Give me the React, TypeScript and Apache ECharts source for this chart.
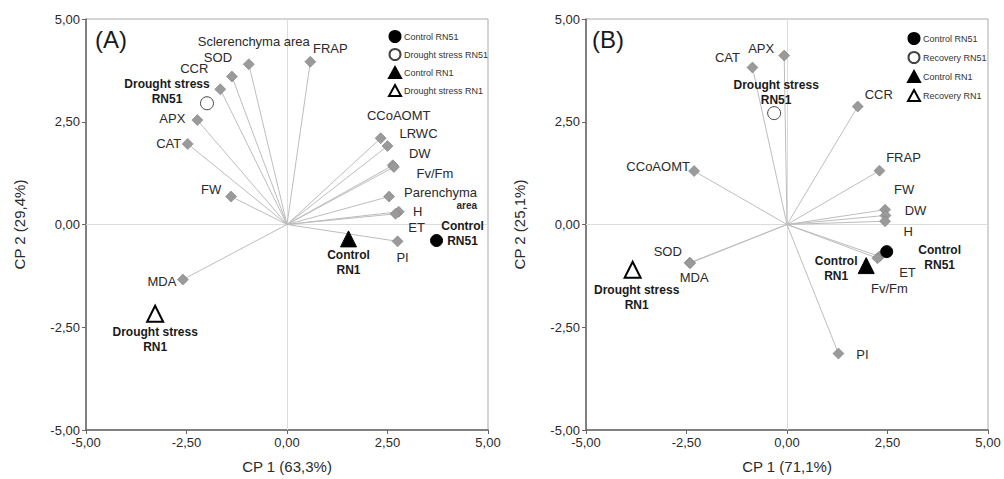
import React, { useEffect, useRef } from "react";
import * as echarts from "echarts";

// ---------- Data ----------
// Panel A: variable loadings
const varNamesA = ["Sclerenchyma area", "SOD", "CCR", "APX", "CAT", "FW", "MDA", "FRAP", "CCoAOMT", "LRWC", "DW", "Fv/Fm", "Parenchyma area", "H", "ET", "PI"];
const varXA = [-0.95, -1.37, -1.66, -2.23, -2.47, -1.39, -2.59, 0.58, 2.33, 2.50, 2.63, 2.66, 2.54, 2.78, 2.70, 2.75];
const varYA = [3.90, 3.60, 3.29, 2.54, 1.96, 0.68, -1.34, 3.96, 2.10, 1.91, 1.44, 1.40, 0.68, 0.31, 0.26, -0.41];

// Panel A: samples
const sampleNamesA = ["Control RN51", "Drought stress RN51", "Control RN1", "Drought stress RN1"];
const sampleLabelsA = ["Control\nRN51", "Drought stress\nRN51", "Control\nRN1", "Drought stress\nRN1"];
const sampleXA = [3.72, -1.99, 1.53, -3.28];
const sampleYA = [-0.39, 2.95, -0.35, -2.17];

// Panel B: variable loadings
const varNamesB = ["CAT", "APX", "CCR", "FRAP", "FW", "DW", "H", "CCoAOMT", "SOD", "MDA", "ET", "Fv/Fm", "PI"];
const varXB = [-0.86, -0.07, 1.76, 2.30, 2.44, 2.45, 2.44, -2.31, -2.42, -2.41, 2.30, 2.25, 1.28];
const varYB = [3.82, 4.11, 2.87, 1.31, 0.36, 0.22, 0.08, 1.30, -0.93, -0.94, -0.78, -0.82, -3.14];

// Panel B: samples
const sampleNamesB = ["Control RN51", "Recovery RN51", "Control RN1", "Recovery RN1"];
const sampleLabelsB = ["Control\nRN51", "Drought stress\nRN51", "Control\nRN1", "Drought stress\nRN1"];
const sampleXB = [2.48, -0.32, 1.97, -3.84];
const sampleYB = [-0.66, 2.71, -1.00, -1.10];

const axisTicks = [-5, -2.5, 0, 2.5, 5];
const axisNamesA = ["CP 1 (63,3%)", "CP 2 (29,4%)"];
const axisNamesB = ["CP 1 (71,1%)", "CP 2 (25,1%)"];
const panelTitles = ["(A)", "(B)"];

// ---------- Styles (label offsets in pixels) ----------
const labelOffsetA: Record<string, number[]> = {
  "Sclerenchyma area": [5, -23],
  SOD: [-14, -19],
  CCR: [-26, -21],
  APX: [-25, -2],
  CAT: [-19, 0],
  FW: [-20, -7],
  MDA: [-21, 2],
  FRAP: [20, -13],
  CCoAOMT: [18, -23],
  LRWC: [31, -12],
  DW: [27, -12],
  "Fv/Fm": [41, 7],
  "Parenchyma area": [88, 2],
  H: [19, 0],
  ET: [21, 14],
  PI: [5, 16],
};
const labelOffsetB: Record<string, number[]> = {
  CAT: [-25, -10],
  APX: [-23, -7],
  CCR: [21, -12],
  FRAP: [24, -13],
  FW: [19, -20],
  DW: [30, -5],
  H: [23, 10],
  CCoAOMT: [-36, -5],
  SOD: [-22, -11],
  MDA: [4, 14],
  ET: [28, 16],
  "Fv/Fm": [12, 30],
  PI: [24, 1],
};
const sampleOffsetA = [[26, -7], [-40, -12], [0, 24], [0, 26]];
const sampleOffsetB = [[53, 6], [2, -21], [-30, 3], [4, 28]];

const FONT = "'Liberation Sans', Arial, Helvetica, sans-serif";

const sampleStyles = [
  { symbol: "circle", symbolSize: 12, itemStyle: { color: "#000", borderColor: "#000", borderWidth: 1, opacity: 1 } },
  { symbol: "circle", symbolSize: 13, itemStyle: { color: "#fff", borderColor: "#444", borderWidth: 1, opacity: 1 } },
  { symbol: "triangle", symbolSize: 16, itemStyle: { color: "#000", borderColor: "#000", borderWidth: 1, opacity: 1 } },
  { symbol: "triangle", symbolSize: 16, itemStyle: { color: "#fff", borderColor: "#000", borderWidth: 2, opacity: 1 } },
];

const fmt = (v: number) => v.toFixed(2).replace(".", ",");

function buildPanel(
  idx: number,
  names: string[],
  xs: number[],
  ys: number[],
  offsets: Record<string, number[]>,
  sNames: string[],
  sLabels: string[],
  sx: number[],
  sy: number[],
  sOff: number[][]
) {
  const series: any[] = [];
  const varData = names.map((n, i) => {
    const isPar = n === "Parenchyma area";
    return {
      name: n,
      value: [xs[i], ys[i]],
      label: {
        show: true,
        position: "inside",
        offset: offsets[n] || [0, 0],
        formatter: isPar ? "{a|Parenchyma}\n{b|area}" : n,
        align: isPar ? "right" : "center",
        verticalAlign: "middle",
        color: "#2a2a2a",
        fontSize: 13,
        fontFamily: FONT,
        rich: isPar
          ? {
              a: { fontSize: 13, color: "#2a2a2a", fontFamily: FONT, lineHeight: 14 },
              b: { fontSize: 10, fontWeight: "bold", color: "#2a2a2a", fontFamily: FONT, lineHeight: 12 },
            }
          : undefined,
      },
    };
  });
  const mlData: any[] = [
    { xAxis: 0, lineStyle: { color: "#dcdcdc", width: 1, type: "solid" } },
    { yAxis: 0, lineStyle: { color: "#dcdcdc", width: 1, type: "solid" } },
  ];
  names.forEach((n, i) => {
    mlData.push([
      { coord: [0, 0], lineStyle: { color: "#bdbdbd", width: 1, type: "solid" } },
      { coord: [xs[i], ys[i]] },
    ]);
  });
  series.push({
    type: "scatter",
    name: "vars" + idx,
    xAxisIndex: idx,
    yAxisIndex: idx,
    symbol: "diamond",
    symbolSize: 11,
    itemStyle: { color: "#9a9a9a", borderColor: "#7d7d7d", borderWidth: 0.6, opacity: 1 },
    data: varData,
    z: 3,
    markLine: {
      silent: true,
      symbol: "none",
      label: { show: false },
      data: mlData,
      z: 1,
    },
  });
  sNames.forEach((sn, i) => {
    series.push({
      type: "scatter",
      name: sn,
      xAxisIndex: idx,
      yAxisIndex: idx,
      ...sampleStyles[i],
      z: 4,
      data: [
        {
          name: sn,
          value: [sx[i], sy[i]],
          label: {
            show: true,
            position: "inside",
            offset: sOff[i],
            formatter: sLabels[i],
            align: "center",
            verticalAlign: "middle",
            color: "#1a1a1a",
            fontSize: 12,
            fontWeight: "bold",
            lineHeight: 15,
            fontFamily: FONT,
          },
        },
      ],
    });
  });
  return series;
}

function makeAxis(idx: number, name: string, isX: boolean) {
  return {
    type: "value",
    gridIndex: idx,
    min: -5,
    max: 5,
    interval: 2.5,
    name,
    nameLocation: "middle",
    nameGap: isX ? 29 : 59,
    nameTextStyle: { fontSize: 15, color: "#2a2a2a", fontFamily: FONT },
    axisLine: { show: true, onZero: false, lineStyle: { color: "#666", width: 1.5 } },
    axisTick: { show: true, length: 4, lineStyle: { color: "#666" } },
    axisLabel: {
      formatter: (v: number) => (axisTicks.includes(v) ? fmt(v) : ""),
      fontSize: 13,
      color: "#2a2a2a",
      margin: 6,
      fontFamily: FONT,
    },
    splitLine: { show: false },
  };
}

export default function App() {
  const ref = useRef<HTMLDivElement>(null);
  useEffect(() => {
    if (!ref.current) return;
    const chart = echarts.init(ref.current, undefined, { renderer: "svg" });
    const option: any = {
      animation: false,
      backgroundColor: "#fff",
      textStyle: { fontFamily: FONT },
      grid: [
        { left: 86, top: 19, width: 402, height: 411, show: true, borderColor: "#aaa", borderWidth: 1, backgroundColor: "transparent" },
        { left: 586, top: 19, width: 402, height: 411, show: true, borderColor: "#aaa", borderWidth: 1, backgroundColor: "transparent" },
      ],
      xAxis: [makeAxis(0, axisNamesA[0], true), makeAxis(1, axisNamesB[0], true)],
      yAxis: [makeAxis(0, axisNamesA[1], false), makeAxis(1, axisNamesB[1], false)],
      legend: [
        {
          data: sampleNamesA,
          orient: "vertical",
          left: 383,
          top: 25,
          itemWidth: 12,
          itemHeight: 11,
          itemGap: 5,
          textStyle: { fontSize: 9, color: "#333", fontFamily: FONT, padding: [0, 0, 0, -2] },
          selectedMode: false,
        },
        {
          data: sampleNamesB,
          orient: "vertical",
          left: 902,
          top: 27,
          itemWidth: 12,
          itemHeight: 11,
          itemGap: 6,
          textStyle: { fontSize: 9, color: "#333", fontFamily: FONT, padding: [0, 0, 0, -2] },
          selectedMode: false,
        },
      ],
      graphic: [
        { type: "text", left: 95, top: 27, style: { text: panelTitles[0], fontSize: 24, fill: "#1a1a1a", fontFamily: FONT } },
        { type: "text", left: 592, top: 27, style: { text: panelTitles[1], fontSize: 24, fill: "#1a1a1a", fontFamily: FONT } },
      ],
      series: [
        ...buildPanel(0, varNamesA, varXA, varYA, labelOffsetA, sampleNamesA, sampleLabelsA, sampleXA, sampleYA, sampleOffsetA),
        ...buildPanel(1, varNamesB, varXB, varYB, labelOffsetB, sampleNamesB, sampleLabelsB, sampleXB, sampleYB, sampleOffsetB),
      ],
    };
    chart.setOption(option);
    return () => chart.dispose();
  }, []);
  return (
    <div
      ref={ref}
      style={{ position: "fixed", left: 0, top: 0, width: 1004, height: 479, background: "#fff" }}
    />
  );
}
